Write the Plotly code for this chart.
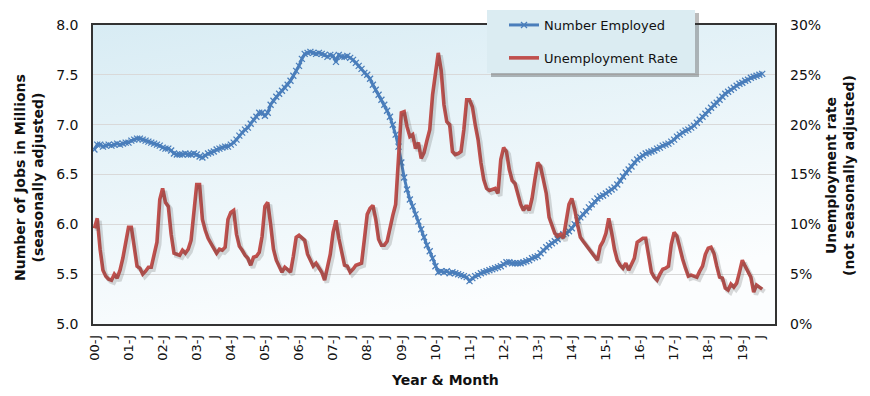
import base64
import plotly.graph_objects as go

# ---------------- data ----------------
years = ["00", "01", "02", "03", "04", "05", "06", "07", "08", "09",
         "10", "11", "12", "13", "14", "15", "16", "17", "18", "19"]

# Number employed (millions, seasonally adjusted), monthly Jan-2000 .. Aug-2019
employed = (
    [6.75, 6.80, 6.80, 6.78, 6.79, 6.80, 6.79, 6.80, 6.81, 6.80, 6.81, 6.82] +   # 2000
    [6.82, 6.84, 6.85, 6.86, 6.86, 6.85, 6.84, 6.83, 6.82, 6.81, 6.80, 6.79] +   # 2001
    [6.77, 6.76, 6.76, 6.74, 6.71, 6.70, 6.70, 6.70, 6.71, 6.70, 6.70, 6.71] +   # 2002
    [6.70, 6.68, 6.67, 6.69, 6.71, 6.72, 6.73, 6.75, 6.76, 6.77, 6.78, 6.78] +   # 2003
    [6.80, 6.82, 6.85, 6.89, 6.92, 6.95, 6.97, 7.01, 7.05, 7.08, 7.12, 7.12] +   # 2004
    [7.09, 7.12, 7.20, 7.24, 7.28, 7.31, 7.34, 7.37, 7.40, 7.44, 7.49, 7.54] +   # 2005
    [7.59, 7.66, 7.71, 7.72, 7.73, 7.72, 7.71, 7.72, 7.71, 7.70, 7.68, 7.70] +   # 2006
    [7.69, 7.63, 7.70, 7.68, 7.68, 7.69, 7.67, 7.65, 7.62, 7.59, 7.56, 7.52] +   # 2007
    [7.50, 7.46, 7.40, 7.35, 7.30, 7.25, 7.20, 7.14, 7.08, 7.00, 6.90, 6.78] +   # 2008
    [6.62, 6.47, 6.35, 6.25, 6.18, 6.10, 6.03, 5.95, 5.87, 5.79, 5.73, 5.66] +   # 2009
    [5.58, 5.52, 5.53, 5.52, 5.53, 5.51, 5.52, 5.51, 5.50, 5.49, 5.48, 5.47] +   # 2010
    [5.43, 5.46, 5.48, 5.49, 5.51, 5.52, 5.53, 5.54, 5.55, 5.56, 5.57, 5.58] +   # 2011
    [5.60, 5.62, 5.62, 5.61, 5.61, 5.61, 5.61, 5.62, 5.63, 5.64, 5.66, 5.67] +   # 2012
    [5.68, 5.71, 5.74, 5.77, 5.79, 5.81, 5.83, 5.85, 5.88, 5.90, 5.91, 5.93] +   # 2013
    [5.96, 6.00, 6.04, 6.07, 6.10, 6.13, 6.17, 6.20, 6.23, 6.26, 6.28, 6.29] +   # 2014
    [6.31, 6.33, 6.35, 6.37, 6.40, 6.44, 6.48, 6.52, 6.55, 6.58, 6.62, 6.65] +   # 2015
    [6.67, 6.69, 6.71, 6.72, 6.73, 6.74, 6.76, 6.77, 6.79, 6.80, 6.81, 6.83] +   # 2016
    [6.85, 6.88, 6.90, 6.92, 6.94, 6.95, 6.97, 6.99, 7.02, 7.05, 7.08, 7.11] +   # 2017
    [7.14, 7.17, 7.20, 7.22, 7.25, 7.28, 7.31, 7.33, 7.35, 7.37, 7.39, 7.41] +   # 2018
    [7.42, 7.44, 7.45, 7.47, 7.48, 7.49, 7.50, 7.51]                            # 2019
)

# Unemployment rate (%, not seasonally adjusted), monthly Jan-2000 .. Aug-2019
unemployment = (
    [9.6, 10.6, 7.5, 5.4, 4.8, 4.5, 4.4, 5.0, 4.6, 5.4, 6.6, 8.3] +              # 2000
    [9.7, 9.7, 7.4, 5.8, 5.6, 5.0, 5.3, 5.7, 5.7, 6.8, 8.2, 12.5] +              # 2001
    [13.6, 12.2, 11.8, 9.0, 7.1, 7.0, 6.9, 7.4, 7.1, 7.5, 8.4, 11.2] +           # 2002
    [14.0, 14.0, 10.5, 9.4, 8.6, 8.1, 7.6, 7.1, 7.5, 7.4, 7.7, 10.5] +           # 2003
    [11.2, 11.4, 9.0, 7.8, 7.4, 6.9, 6.6, 5.9, 6.7, 6.8, 7.2, 8.8] +             # 2004
    [11.8, 12.2, 10.0, 7.5, 6.4, 5.8, 5.2, 5.7, 5.5, 5.2, 6.8, 8.7] +            # 2005
    [8.9, 8.6, 8.4, 7.0, 6.4, 5.8, 6.1, 5.7, 5.2, 4.4, 5.8, 7.0] +               # 2006
    [9.2, 10.4, 8.6, 7.0, 5.9, 5.8, 5.2, 5.5, 5.9, 6.0, 6.1, 8.5] +              # 2007
    [11.0, 11.6, 11.9, 10.5, 8.5, 7.9, 7.9, 8.3, 9.8, 10.9, 12.0, 17.0] +        # 2008
    [21.2, 21.3, 19.8, 18.8, 19.0, 17.6, 18.2, 16.6, 17.2, 18.4, 19.5, 23.0] +   # 2009
    [25.0, 27.2, 25.5, 22.0, 20.3, 20.0, 17.3, 17.0, 17.1, 17.3, 19.5, 22.5] +   # 2010
    [22.5, 21.8, 20.0, 18.5, 16.2, 14.5, 13.6, 13.4, 13.5, 13.6, 13.1, 16.5] +   # 2011
    [17.7, 17.3, 15.5, 14.4, 14.1, 13.0, 12.0, 11.4, 11.9, 11.4, 12.6, 14.5] +   # 2012
    [16.2, 15.8, 14.5, 13.1, 10.7, 9.8, 9.1, 8.8, 9.0, 8.6, 10.5, 12.0] +        # 2013
    [12.6, 11.5, 10.0, 8.7, 8.3, 7.9, 7.6, 7.1, 6.7, 6.4, 7.8, 8.3] +            # 2014
    [9.1, 10.6, 9.2, 7.5, 6.4, 5.9, 5.6, 6.1, 5.4, 6.0, 6.6, 8.2] +              # 2015
    [8.4, 8.6, 8.6, 6.8, 5.2, 4.7, 4.4, 5.0, 5.5, 5.6, 5.8, 8.0] +               # 2016
    [9.2, 8.8, 7.6, 6.5, 5.6, 4.8, 4.9, 4.8, 4.7, 5.3, 5.8, 7.0] +               # 2017
    [7.6, 7.7, 7.1, 5.8, 4.7, 4.6, 3.6, 3.4, 4.0, 3.7, 4.1, 5.2] +               # 2018
    [6.4, 5.8, 5.2, 4.7, 3.2, 3.9, 3.7, 3.5]                                     # 2019
)

# x-axis tick labels (every 6 months: January and July)
tick_text = []
for y in years:
    tick_text += [y + "-J", "J"]
tick_vals = list(range(0, 6 * len(tick_text), 6))
months = list(range(len(employed)))

# ---------------- style ----------------
FONT = "DejaVu Sans"
BLUE = "#4a7ebb"
RED = "#c0504d"

svg = ('<svg xmlns="http://www.w3.org/2000/svg" width="100" height="100" '
       'viewBox="0 0 100 100" preserveAspectRatio="none">'
       '<defs><linearGradient id="g" x1="0" y1="0" x2="0.35" y2="1">'
       '<stop offset="0" stop-color="#d8ecf4"/><stop offset="1" stop-color="#fbfdfe"/>'
       '</linearGradient></defs><rect width="100" height="100" fill="url(#g)"/></svg>')
bg_src = "data:image/svg+xml;base64," + base64.b64encode(svg.encode()).decode()

# target plot area on screen (pixels); the page body adds an 8px offset
W, H = 870, 396
OFF = 8
X0, X1, Y0, Y1 = 93, 775, 25, 324
PW, PH = X1 - X0, Y1 - Y0
ML, MT = X0 - OFF, Y0 - OFF
MR, MB = W - ML - PW, H - MT - PH


def px(xp):
    return (xp - X0) / PW


def py(yp):
    return (Y1 - yp) / PH


fig = go.Figure()

# shadow of the unemployment line (same data on slightly shifted hidden axes)
fig.add_trace(go.Scatter(
    x=months, y=unemployment, mode="lines", xaxis="x2", yaxis="y3",
    line=dict(color="rgba(70,70,70,0.2)", width=4.5), showlegend=False,
    hoverinfo="skip"))

fig.add_trace(go.Scatter(
    x=months, y=employed, mode="lines+markers", name="Number Employed",
    line=dict(color=BLUE, width=3),
    marker=dict(symbol="x-thin", size=6, line=dict(color=BLUE, width=1.3)),
    legendgroup="a"))

fig.add_trace(go.Scatter(
    x=months, y=unemployment, mode="lines", name="Unemployment Rate",
    yaxis="y2", line=dict(color=RED, width=3.6), legendgroup="b"))

fig.update_layout(
    width=W, height=H,
    margin=dict(l=ML, r=MR, t=MT, b=MB, autoexpand=False),
    paper_bgcolor="white", plot_bgcolor="rgba(0,0,0,0)",
    font=dict(family=FONT, size=13, color="#111111"),
    images=[dict(source=bg_src, xref="paper", yref="paper", x=0, y=1,
                 sizex=1, sizey=1, sizing="stretch", layer="below",
                 xanchor="left", yanchor="top")],
    shapes=[
        # legend box shadow
        dict(type="rect", xref="paper", yref="paper", layer="above",
             x0=px(491), x1=px(699), y0=py(77), y1=py(13),
             fillcolor="rgba(60,60,60,0.35)", line=dict(width=0)),
        # legend box
        dict(type="rect", xref="paper", yref="paper", layer="above",
             x0=px(487), x1=px(695), y0=py(73), y1=py(10),
             fillcolor="#dbecf2", line=dict(width=0)),
    ],
    xaxis=dict(range=[-0.5, 239.5], tickmode="array", tickvals=tick_vals,
               ticktext=tick_text, tickangle=-90, showgrid=False, zeroline=False,
               showline=True, mirror=True, linecolor="#333333", linewidth=1.5,
               ticks="", tickfont=dict(size=13), ticklabelstandoff=4,
               automargin=False),
    xaxis2=dict(range=[-0.5 - 0.8, 239.5 - 0.8], overlaying="x", visible=False),
    yaxis=dict(range=[5, 8], dtick=0.5, tickformat=".1f", showgrid=True,
               gridcolor="#d9d9d9", gridwidth=1, zeroline=False, showline=True,
               mirror=True, linecolor="#333333", linewidth=1.5, ticks="",
               tickfont=dict(size=14), ticklabelstandoff=10, automargin=False),
    yaxis2=dict(range=[0, 30], dtick=5, ticksuffix="%", overlaying="y",
                side="right", showgrid=False, zeroline=False, showline=False,
                ticks="", tickfont=dict(size=14), ticklabelstandoff=14,
                automargin=False),
    yaxis3=dict(range=[0.25, 30.25], overlaying="y", visible=False),
    legend=dict(x=px(504), y=py(10), xanchor="left", yanchor="top",
                bgcolor="rgba(0,0,0,0)", borderwidth=0, tracegroupgap=13,
                font=dict(size=13, family=FONT)),
    annotations=[
        dict(text="<b>Number of Jobs in Millions<br>(seasonally adjusted)</b>",
             xref="paper", yref="paper", x=px(29), y=py(178), textangle=-90,
             showarrow=False, font=dict(size=14), xanchor="center", yanchor="middle"),
        dict(text="<b>Unemployment rate<br>(not seasonally adjusted)</b>",
             xref="paper", yref="paper", x=px(840), y=py(175), textangle=-90,
             showarrow=False, font=dict(size=14), xanchor="center", yanchor="middle"),
        dict(text="<b>Year &amp; Month</b>", xref="paper", yref="paper",
             x=px(445), y=py(380), showarrow=False, font=dict(size=14),
             xanchor="center", yanchor="middle"),
    ],
)

fig.write_html("out.html")
